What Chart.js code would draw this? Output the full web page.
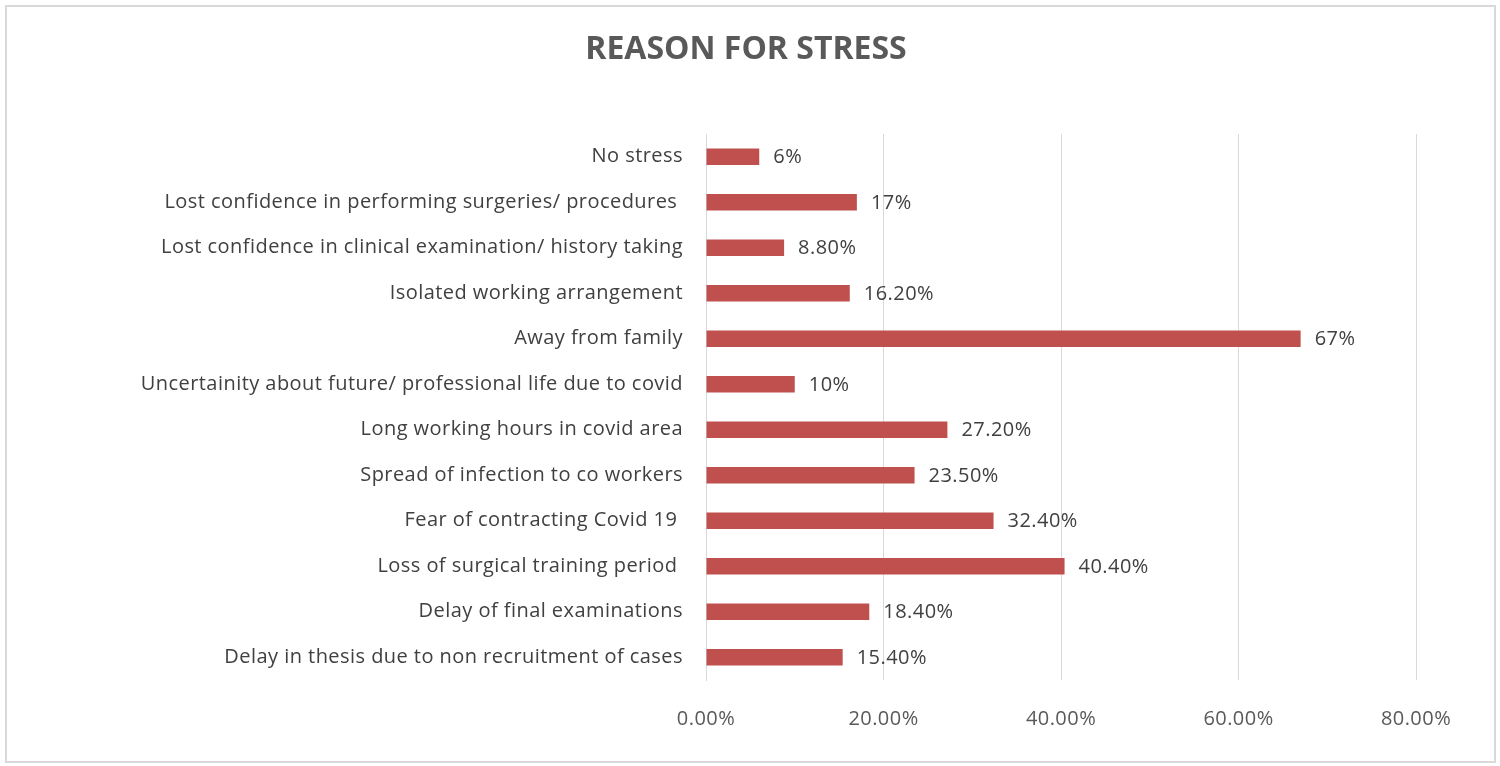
<!DOCTYPE html>
<html>
<head>
<meta charset="utf-8">
<script src="https://cdn.jsdelivr.net/npm/chart.js@4/dist/chart.umd.min.js"></script>
<style>
  html,body{margin:0;padding:0;background:#fff;}
  #wrap{position:relative;width:1500px;height:766px;}
  #frame{position:absolute;left:5px;top:5px;width:1487px;height:754px;border:2px solid #d9d9d9;pointer-events:none;}
  canvas{display:block;}
</style>
</head>
<body>
<div id="wrap">
  <canvas id="c" width="1500" height="766"></canvas>
  <div id="frame"></div>
</div>
<script>
const categories = [
  "No stress",
  "Lost confidence in performing surgeries/ procedures ",
  "Lost confidence in clinical examination/ history taking",
  "Isolated working arrangement",
  "Away from family",
  "Uncertainity about future/ professional life due to covid",
  "Long working hours in covid area",
  "Spread of infection to co workers",
  "Fear of contracting Covid 19 ",
  "Loss of surgical training period ",
  "Delay of final examinations",
  "Delay in thesis due to non recruitment of cases"
];
const values = [6, 17, 8.8, 16.2, 67, 10, 27.2, 23.5, 32.4, 40.4, 18.4, 15.4];
const valueLabels = ["6%", "17%", "8.80%", "16.20%", "67%", "10%", "27.20%", "23.50%", "32.40%", "40.40%", "18.40%", "15.40%"];
const tickValues = [0, 20, 40, 60, 80];
const titleText = "REASON FOR STRESS";

const FONT = "'Open Sans', 'Liberation Sans', sans-serif";
const SPACING = "0.45px";

const spacingPlugin = {
  id: 'spacing',
  beforeLayout(chart) { chart.ctx.letterSpacing = SPACING; },
  beforeDraw(chart) { chart.ctx.letterSpacing = SPACING; }
};

const titlePlugin = {
  id: 'customTitle',
  afterDraw(chart) {
    const ctx = chart.ctx;
    ctx.save();
    ctx.letterSpacing = "0px";
    ctx.font = "bold 32px " + FONT;
    ctx.fillStyle = "#595959";
    ctx.textAlign = "center";
    ctx.textBaseline = "middle";
    ctx.fillText(titleText, 746, 50);
    ctx.restore();
  }
};

const dataLabelPlugin = {
  id: 'dataLabels',
  afterDatasetsDraw(chart) {
    const ctx = chart.ctx;
    const meta = chart.getDatasetMeta(0);
    ctx.save();
    ctx.letterSpacing = SPACING;
    ctx.font = "20px " + FONT;
    ctx.fillStyle = "#404040";
    ctx.textAlign = "left";
    ctx.textBaseline = "middle";
    meta.data.forEach((bar, i) => {
      ctx.fillText(valueLabels[i], bar.x + 14, bar.y + 1);
    });
    ctx.restore();
  }
};

new Chart(document.getElementById('c'), {
  type: 'bar',
  data: {
    labels: categories,
    datasets: [{
      data: values,
      backgroundColor: '#C0504D',
      borderWidth: 0,
      barPercentage: 0.36,
      categoryPercentage: 1.0
    }]
  },
  options: {
    indexAxis: 'y',
    responsive: false,
    animation: false,
    devicePixelRatio: 1,
    layout: { padding: { left: 0, right: 84, top: 134, bottom: 8 } },
    plugins: {
      legend: { display: false },
      tooltip: { enabled: false },
      title: { display: false }
    },
    scales: {
      x: {
        min: 0, max: 80,
        afterBuildTicks(scale) { scale.ticks = tickValues.map(v => ({ value: v })); },
        ticks: {
          color: '#595959',
          font: { family: FONT, size: 20 },
          padding: 27,
          maxRotation: 0,
          callback: v => v.toFixed(2) + '%'
        },
        grid: { color: '#d9d9d9', drawTicks: false, lineWidth: 1 },
        border: { display: false }
      },
      y: {
        afterFit(scale) { scale.width = 706; },
        ticks: {
          color: '#404040',
          font: { family: FONT, size: 20 },
          padding: 23
        },
        grid: { display: false, drawTicks: false },
        border: { display: true, color: '#d9d9d9' }
      }
    }
  },
  plugins: [spacingPlugin, dataLabelPlugin, titlePlugin]
});
</script>
</body>
</html>
